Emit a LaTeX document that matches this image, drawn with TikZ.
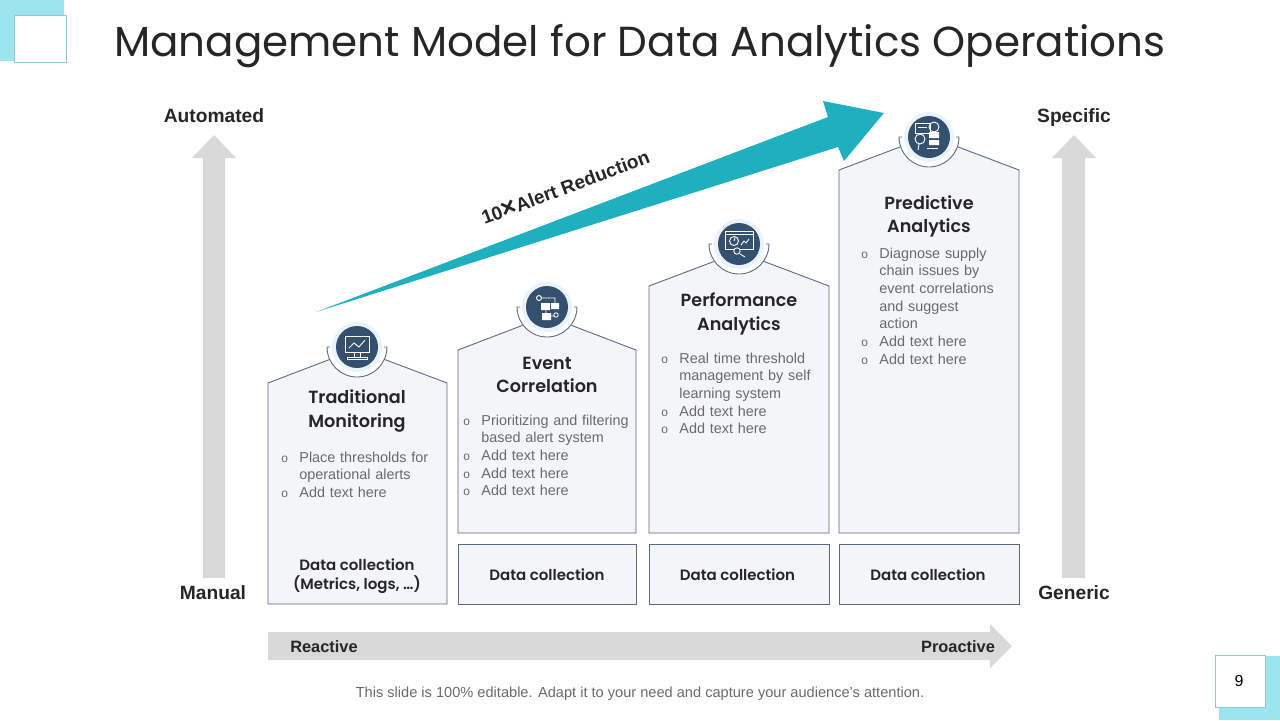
\documentclass[tikz,border=0pt]{standalone}
\usepackage{fontspec}
\setmainfont{Liberation Sans}
\newfontfamily\gothic{Poppins}
\newfontfamily\gothicmed{Poppins SemiBold}
\definecolor{teal1}{HTML}{1FB0BF}
\definecolor{cyan1}{HTML}{9CE5EF}
\definecolor{navy1}{HTML}{34506F}
\definecolor{halo1}{HTML}{EAF3F9}
\definecolor{card1}{HTML}{F3F5F9}
\definecolor{edge1}{HTML}{5A6A80}
\definecolor{grey1}{HTML}{D9D9D9}
\definecolor{body1}{HTML}{6A6A6A}
\tikzset{
  cardline/.style={draw=edge1,fill=card1,line width=0.45pt},
  greyarrow/.style={fill=grey1},
  axislabel/.style={font=\fontsize{9.6}{11}\selectfont\bfseries,text=black!85,inner sep=0,text height=7pt,text depth=2pt},
  cardtitle/.style={font=\gothicmed\fontsize{8.8}{11.6}\selectfont,text=black!85,align=center,inner sep=0},
  datalabel/.style={font=\gothicmed\fontsize{7.5}{9.6}\selectfont,text=black!85,align=center,inner sep=0},
  bodytext/.style={font=\fontsize{7.2}{8.85}\selectfont,text=body1,anchor=north west,inner sep=0,text width=90pt},
  iconline/.style={draw=white,line width=0.45pt},
}
\newcommand{\bulitem}[1]{\par\noindent\hbox to 9pt{\fontsize{6}{6}\selectfont o\hss}\parbox[t]{81pt}{\raggedright\rule{0pt}{5.5pt}#1\rule[-2pt]{0pt}{2pt}}\par\prevdepth=2pt\relax}
% badge with its arc, drawn over the roof of a card
\newcommand{\badge}[3]{
  \fill [white] (#1,#2) circle (30);
  \draw [edge1,line width=0.45pt] (#1-30+3,#2-1) -- (#1-30,#2-1) arc (180:0:30) -- (#1+30-3,#2-1);
  \fill [halo1] (#1,#2-1) circle (25);
  \node (#3) [circle,fill=navy1,minimum size=21pt,inner sep=0] at (#1,#2-1) {};
}
\begin{document}
\begin{tikzpicture}[x=0.5pt,y=-0.5pt]
  \useasboundingbox (0,0) rectangle (1280,720);
  \fill [cyan1] (0,0) rectangle (64,61);
  \draw [fill=white,draw=cyan1!70!gray,line width=0.4pt] (14,15) rectangle (66,62);
  \fill [cyan1] (1219,656) rectangle (1280,720);
  \draw [fill=white,draw=cyan1!70!gray,line width=0.4pt] (1215,655) rectangle (1265,707);
  \node (pagenum) [font=\fontsize{8}{10}\selectfont,inner sep=0] at (1239,681) {9};
  \node (title) [font=\gothic\fontsize{21}{26}\selectfont,text=black!85,inner sep=0] at (640,46) {Management Model for Data Analytics Operations};

  % side arrows
  \fill [greyarrow] (203,578) -- (203,158) -- (192,158) -- (214,135) -- (236,158) -- (225,158) -- (225,578) -- cycle;
  \fill [greyarrow] (1062,578) -- (1062,158) -- (1052,158) -- (1074,135) -- (1096,158) -- (1085,158) -- (1085,578) -- cycle;
  \fill [greyarrow] (268,632) -- (990,632) -- (990,624) -- (1012,646) -- (990,668) -- (990,660) -- (268,660) -- cycle;
  \node (automated) [axislabel] at (214,117.5) {Automated};
  \node (specific) [axislabel] at (1074,117.5) {Specific};
  \node (manual) [axislabel] at (213,594.5) {Manual};
  \node (generic) [axislabel] at (1074,594.5) {Generic};
  \node (reactive) [axislabel,font=\fontsize{8.2}{10}\selectfont\bfseries] at (324,647) {Reactive};
  \node (proactive) [axislabel,font=\fontsize{8.2}{10}\selectfont\bfseries] at (958,647) {Proactive};

  % big arrow
  \fill [teal1] (316,312) -- (828,117) -- (823,101) -- (884,113) -- (844,161) -- (838,147) -- cycle;
  \node (reduction) [axislabel,font=\fontsize{9.5}{12}\selectfont\bfseries,rotate=20.5] at (566,189) {10\raisebox{-0.6pt}{\fontsize{13}{12}\selectfont×}Alert Reduction};

  % cards
  \draw [cardline] (268,383) -- (357,349) -- (447,383) -- (447,604) -- (268,604) -- cycle;
  \draw [cardline] (458,350) -- (547,316) -- (636,350) -- (636,533) -- (458,533) -- cycle;
  \draw [cardline] (649,286) -- (739,252) -- (829,286) -- (829,533) -- (649,533) -- cycle;
  \draw [cardline] (839,170) -- (929,136) -- (1019,170) -- (1019,533) -- (839,533) -- cycle;
  \foreach \xa/\xb in {458/636,649/829,839/1019}
    \draw [cardline] (\xa,544) rectangle (\xb,604);

  \badge{357}{348}{badgeone}
  \badge{547}{308}{badgetwo}
  \badge{739}{245}{badgethree}
  \badge{929}{138}{badgefour}

  \node (titleone) [cardtitle] at (357,411) {Traditional\\Monitoring};
  \node (titletwo) [cardtitle] at (547,375) {Event\\Correlation};
  \node (titlethree) [cardtitle] at (739,314) {Performance\\Analytics};
  \node (titlefour) [cardtitle] at (929,216) {Predictive\\Analytics};

  \node (bodyone) [bodytext] at (281,444) {\bulitem{Place thresholds for\\operational alerts}\bulitem{Add text here}};
  \node (bodytwo) [bodytext] at (463,407) {\bulitem{Prioritizing and filtering\\based alert system}\bulitem{Add text here}\bulitem{Add text here}\bulitem{Add text here}};
  \node (bodythree) [bodytext] at (661,345) {\bulitem{Real time threshold\\management by self\\learning system}\bulitem{Add text here}\bulitem{Add text here}};
  \node (bodyfour) [bodytext] at (861,240) {\bulitem{Diagnose supply\\chain issues by\\event correlations\\and suggest\\action}\bulitem{Add text here}\bulitem{Add text here}};

  \node (dataone) [datalabel] at (357,576) {Data collection\\(Metrics, logs, …)};
  \node (datatwo) [datalabel] at (547,575) {Data collection};
  \node (datathree) [datalabel] at (737.5,575) {Data collection};
  \node (datafour) [datalabel] at (928,575) {Data collection};

  \node (footer) [font=\fontsize{7.3}{9}\selectfont,text=body1,inner sep=0] at (640,694) {This slide is 100\% editable. Adapt it to your need and capture your audience's attention.};

  % icons
  \begin{scope}[shift={(357,347)}]
    \draw [iconline] (-12,-11) rectangle (12,5) (-3,5) -- (-3,10) (3,5) -- (3,10);
    \draw [iconline] (-10,10) rectangle (10,12);
    \draw [iconline] (-8,1) -- (-3,-4) -- (2,0) -- (8,-7);
  \end{scope}
  \begin{scope}[shift={(547,307)}]
    \draw [iconline] (-8,-9) circle (2.5) (-5,-9) -- (8,-9) -- (8,-4);
    \fill [white] (-6,-4) rectangle (3,3) (4,-4) rectangle (12,2) (-5,6) rectangle (4,13);
    \draw [iconline] (-1,3) -- (-1,6) (4,9) -- (7,9) (9,8) circle (2.2);
  \end{scope}
  \begin{scope}[shift={(739,244)}]
    \draw [iconline] (-14,-13) rectangle (14,5) (-14,-10) -- (14,-10);
    \draw [iconline] (-5,-3) circle (4.5) (-5,-3) -- (-4,-6);
    \draw [iconline] (2,1) -- (5,-3) -- (7,-1) -- (10,-5);
    \draw [iconline,fill=navy1] (-2,7) circle (3.2) (1,10) -- (6,13);
  \end{scope}
  \begin{scope}[shift={(929,137)}]
    \draw [iconline] (-14,-14) rectangle (1,-4) (-11,-10) -- (-2,-10);
    \draw [iconline] (5,-10) circle (5);
    \fill [white] (0,-5) rectangle (10,1) (0,3) rectangle (10,8);
    \draw [iconline,fill=navy1] (-9,2) circle (5) (-10,7) -- (-11,13);
    \draw [iconline] (-2,11) -- (9,11);
  \end{scope}
\end{tikzpicture}
\end{document}
